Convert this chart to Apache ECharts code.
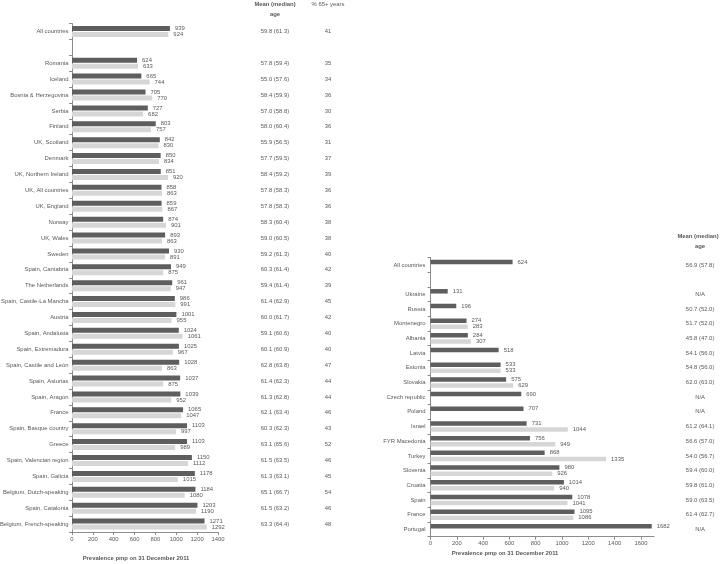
<!DOCTYPE html>
<html><head><meta charset="utf-8">
<script src="https://cdn.jsdelivr.net/npm/echarts@6/dist/echarts.min.js"></script>
<style>html,body{margin:0;padding:0;background:#fff}#c{width:720px;height:564px}</style>
</head><body><div id="c"></div>
<script>
const leftCategories = ['All countries','','Romania','Iceland','Bosnia & Herzegovina','Serbia','Finland','UK, Scotland','Denmark','UK, Northern Ireland','UK, All countries','UK, England','Norway','UK, Wales','Sweden','Spain, Cantabria','The Netherlands','Spain, Castile-La Mancha','Austria','Spain, Andalusia','Spain, Extremadura','Spain, Castile and León','Spain, Asturias','Spain, Aragon','France','Spain, Basque country','Greece','Spain, Valencian region','Spain, Galicia','Belgium, Dutch-speaking','Spain, Catalonia','Belgium, French-speaking'];
const leftDark = [939,null,624,665,705,727,803,842,850,851,858,859,874,893,930,949,961,986,1001,1024,1025,1028,1037,1039,1065,1103,1103,1150,1178,1184,1203,1271];
const leftLight = [924,null,633,744,770,682,757,830,834,920,863,867,901,863,891,875,947,991,955,1061,967,863,875,952,1047,997,989,1112,1015,1080,1190,1292];
const leftMeanAge = ['59.8 (61.3)','','57.8 (59.4)','55.0 (57.6)','58.4 (59.9)','57.0 (58.8)','58.0 (60.4)','55.9 (56.5)','57.7 (59.5)','58.4 (59.2)','57.8 (58.3)','57.8 (58.3)','58.3 (60.4)','59.0 (60.5)','59.2 (61.3)','60.3 (61.4)','59.4 (61.4)','61.4 (62.9)','60.0 (61.7)','59.1 (60.6)','60.1 (60.9)','62.8 (63.8)','61.4 (62.3)','61.3 (62.8)','62.1 (63.4)','60.3 (62.3)','63.1 (65.6)','61.5 (63.5)','61.3 (63.1)','65.1 (66.7)','61.5 (63.2)','63.3 (64.4)'];
const leftPct65 = ['41','','35','34','36','30','36','31','37','39','36','36','38','38','40','42','39','45','42','40','40','47','44','44','46','43','52','46','45','54','46','48'];
const leftTicks = [0,200,400,600,800,1000,1200,1400];

const rightCategories = ['All countries','','Ukraine','Russia','Montenegro','Albania','Latvia','Estonia','Slovakia','Czech republic','Poland','Israel','FYR Macedonia','Turkey','Slovenia','Croatia','Spain','France','Portugal'];
const rightDark = [624,null,131,196,274,284,518,533,575,690,707,731,756,868,980,1014,1078,1095,1682];
const rightLight = [null,null,null,null,283,307,null,533,629,null,null,1044,949,1335,926,940,1041,1086,null];
const rightMeanAge = ['56.9 (57.8)','','N/A','50.7 (52.0)','51.7 (52.0)','45.8 (47.0)','54.1 (56.0)','54.8 (56.0)','62.0 (63.0)','N/A','N/A','61.2 (64.1)','56.6 (57.0)','54.0 (56.7)','59.4 (60.0)','59.8 (61.0)','59.0 (63.5)','61.4 (62.7)','N/A'];
const rightTicks = [0,200,400,600,800,1000,1200,1400,1600];

const FONT = "'Liberation Sans', Arial, sans-serif";
const TXT = '#595959';
const FS = 5.9;
const DARK = '#5e5e5e';
const LIGHT = '#d6d6d6';
const AX = '#8c8c8c';

const chart = echarts.init(document.getElementById('c'), null, {renderer:'canvas'});

function valLabel(dist){
  return {show:true, position:'right', distance:dist, color:TXT, fontSize:FS, fontFamily:FONT,
    formatter: p => (p.value==null ? '' : String(p.value))};
}
function catAxis(grid, cats, margin){
  return {type:'category', gridIndex:grid, data:cats, inverse:true,
    axisLine:{show:true, lineStyle:{color:AX, width:1}},
    axisTick:{show:true, length:3, lineStyle:{color:AX}},
    axisLabel:{interval:0, color:TXT, fontSize:FS, fontFamily:FONT, margin:margin}};
}
function textAxis(grid, cats, texts, offset, shiftUp){
  return {type:'category', gridIndex:grid, data:cats, inverse:true, position:'right', offset:offset,
    axisLine:{show:false}, axisTick:{show:false}, splitLine:{show:false},
    axisLabel:{interval:0, color:TXT, fontSize:FS, fontFamily:FONT, margin:0, align:'center',
      padding:[0,0,shiftUp,0],
      formatter:(v,i)=>texts[i]}};
}
function valAxis(grid, max, ticks, hideMax){
  return {type:'value', gridIndex:grid, min:ticks[0], max:max, interval:ticks[1]-ticks[0],
    axisLine:{show:true, lineStyle:{color:AX}},
    axisTick:{show:true, length:3, lineStyle:{color:AX}},
    splitLine:{show:false},
    axisLabel:{color:TXT, fontSize:FS, fontFamily:FONT, margin:4, showMaxLabel:!hideMax,
      formatter:v=> ticks.indexOf(v)>=0 ? String(v) : ''}};
}

const option = {
  backgroundColor:'#fff',
  animation:false,
  textStyle:{fontFamily:FONT},
  grid:[
    {left:72, top:23.5, width:146, height:508.5, containLabel:false, outerBoundsMode:'none'},
    {left:430.5, top:257.6, width:223.6, height:279.1, containLabel:false, outerBoundsMode:'none'}
  ],
  xAxis:[
    valAxis(0, 1400, leftTicks, false),
    valAxis(1, 1700, rightTicks, true)
  ],
  yAxis:[
    catAxis(0, leftCategories, 3.5),
    textAxis(0, leftCategories, leftMeanAge, 57, 2),
    textAxis(0, leftCategories, leftPct65, 110, 2),
    catAxis(1, rightCategories, 5),
    textAxis(1, rightCategories, rightMeanAge, 46, 6)
  ],
  series:[
    {type:'bar', name:'dark', xAxisIndex:0, yAxisIndex:0, data:leftDark, barWidth:5, barGap:'20%',
      itemStyle:{color:DARK}, label:valLabel(5)},
    {type:'bar', name:'light', xAxisIndex:0, yAxisIndex:0, data:leftLight, barWidth:5, barGap:'20%',
      itemStyle:{color:LIGHT}, label:valLabel(5)},
    {type:'bar', name:'dark', xAxisIndex:1, yAxisIndex:3, data:rightDark, barWidth:4.5, barGap:'35%',
      itemStyle:{color:DARK}, label:valLabel(5)},
    {type:'bar', name:'light', xAxisIndex:1, yAxisIndex:3, data:rightLight, barWidth:4.5, barGap:'35%',
      itemStyle:{color:LIGHT}, label:valLabel(5)}
  ],
  graphic:[
    {type:'text', x:275, y:4, style:{text:'Mean (median)', fill:TXT, font:'bold 5.9px '+FONT, textAlign:'center', textVerticalAlign:'middle'}},
    {type:'text', x:275, y:14, style:{text:'age', fill:TXT, font:'bold 5.9px '+FONT, textAlign:'center', textVerticalAlign:'middle'}},
    {type:'text', x:328, y:4, style:{text:'% 65+ years', fill:TXT, font:'5.9px '+FONT, textAlign:'center', textVerticalAlign:'middle'}},
    {type:'text', x:698, y:236, style:{text:'Mean (median)', fill:TXT, font:'bold 5.9px '+FONT, textAlign:'center', textVerticalAlign:'middle'}},
    {type:'text', x:700, y:246, style:{text:'age', fill:TXT, font:'bold 5.9px '+FONT, textAlign:'center', textVerticalAlign:'middle'}},
    {type:'text', x:136, y:558, style:{text:'Prevalence pmp on 31 December 2011', fill:TXT, font:'bold 5.9px '+FONT, textAlign:'center', textVerticalAlign:'middle'}},
    {type:'text', x:505, y:553, style:{text:'Prevalence pmp on 31 December 2011', fill:TXT, font:'bold 5.9px '+FONT, textAlign:'center', textVerticalAlign:'middle'}}
  ]
};
chart.setOption(option);
</script>
</body></html>
